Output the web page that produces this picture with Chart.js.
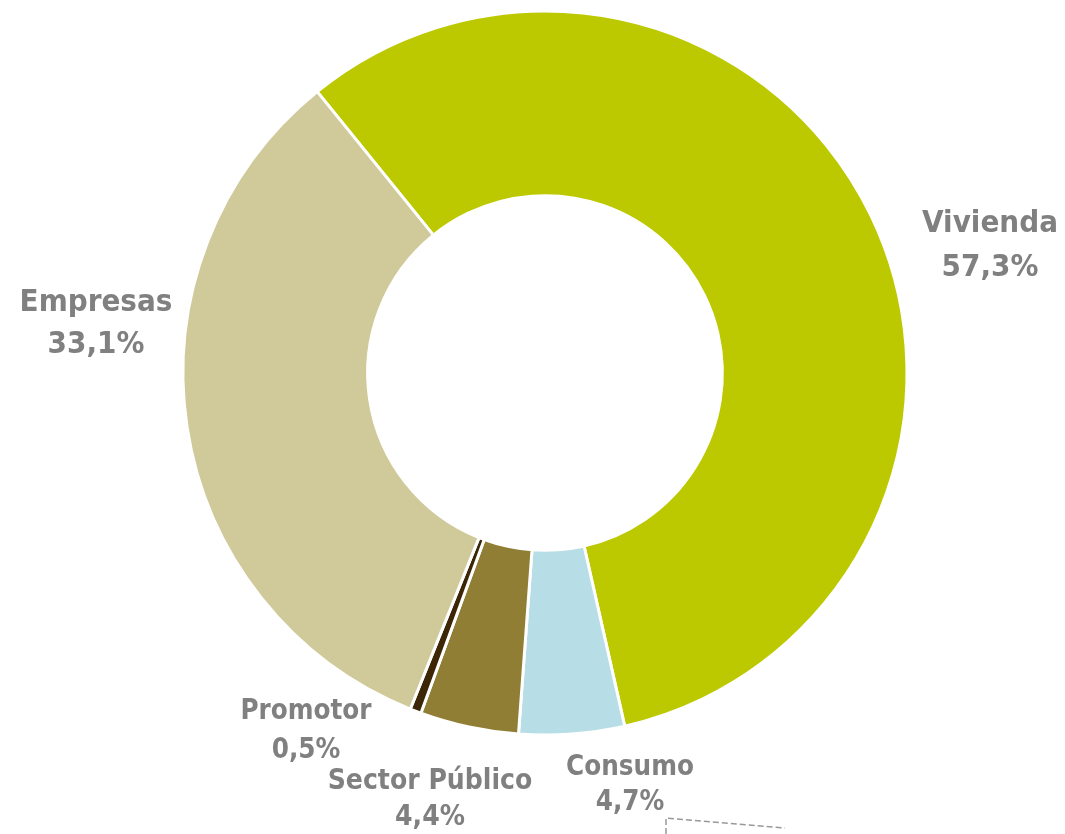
<!DOCTYPE html>
<html>
<head>
<meta charset="utf-8">
<script src="https://cdn.jsdelivr.net/npm/chart.js@4/dist/chart.umd.min.js"></script>
<style>
  html, body { margin: 0; padding: 0; background: #fff; }
  #wrap { width: 1065px; height: 834px; position: relative; }
</style>
</head>
<body>
<div id="wrap"><canvas id="cartera"></canvas></div>
<script>
/* Distribución de la cartera crediticia */
const categorias = ['Vivienda', 'Consumo', 'Sector Público', 'Promotor', 'Empresas'];
const porcentajes = [57.3, 4.7, 4.4, 0.5, 33.1];
const colores = ['#bcc900', '#b7dde6', '#8f7e33', '#3d2606', '#d0c999'];

// dónde va cada etiqueta: centro del nombre, salto hasta el %, tamaño de letra
const posEtiquetas = [
  { x: 990, y: 224, dy: 44, size: 31 },
  { x: 630, y: 768, dy: 35, size: 27.5 },
  { x: 430, y: 782, dy: 36, size: 28 },
  { x: 306, y: 712, dy: 39, size: 27.5 },
  { x: 96, y: 303, dy: 42, size: 31 },
];

const fmt = (v) => v.toFixed(1).replace('.', ',') + '%';

const etiquetas = {
  id: 'etiquetas',
  afterDraw(chart) {
    const ctx = chart.ctx;
    ctx.save();
    ctx.fillStyle = '#808080';
    ctx.textAlign = 'center';
    ctx.textBaseline = 'middle';
    categorias.forEach((c, i) => {
      const p = posEtiquetas[i];
      ctx.font = `bold ${p.size}px "DejaVu Sans Condensed", "DejaVu Sans", sans-serif`;
      ctx.fillText(c, p.x, p.y);
      ctx.fillText(fmt(porcentajes[i]), p.x, p.y + p.dy);
    });
    // esquina punteada de la caja de abajo
    ctx.strokeStyle = '#999999';
    ctx.lineWidth = 1.5;
    ctx.setLineDash([6, 3]);
    ctx.beginPath();
    ctx.moveTo(666, 834); ctx.lineTo(666, 818); ctx.lineTo(785, 828);
    ctx.stroke();
    ctx.restore();
  },
};

new Chart(document.getElementById('cartera'), {
  type: 'doughnut',
  data: {
    labels: categorias,
    datasets: [{
      data: porcentajes,
      backgroundColor: colores,
      borderColor: '#ffffff',
      borderWidth: 3,
    }],
  },
  options: {
    responsive: true,
    maintainAspectRatio: false,
    animation: false,
    rotation: -39,
    radius: 362,
    cutout: 182,
    layout: { padding: { left: 25, right: 0, top: 0, bottom: 88 } },
    plugins: { legend: { display: false }, tooltip: { enabled: false } },
  },
  plugins: [etiquetas],
});
</script>
</body>
</html>
